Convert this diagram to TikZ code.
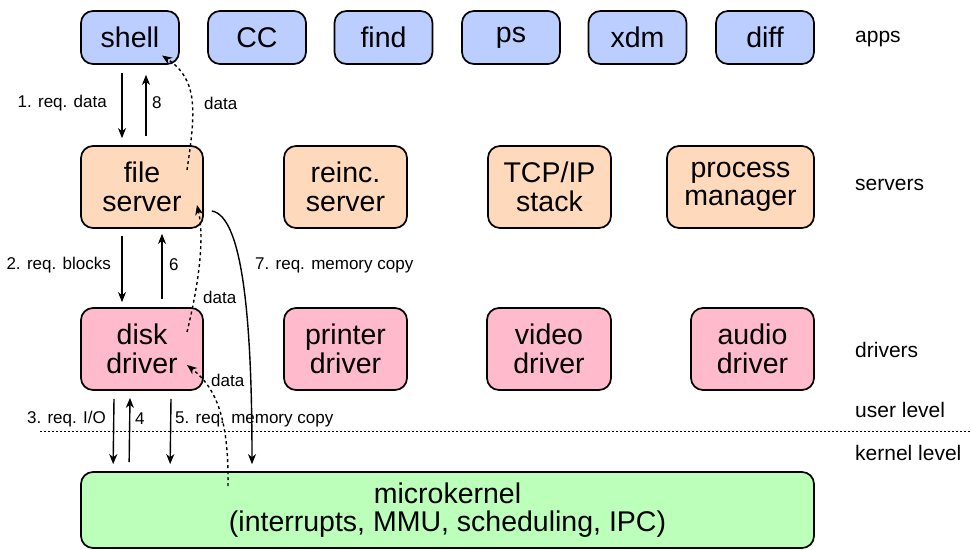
\documentclass[tikz,border=0pt]{standalone}
\usepackage{fontspec}
\setmainfont{Liberation Sans}
\usetikzlibrary{arrows.meta}
\definecolor{appc}{RGB}{187,206,255}
\definecolor{srvc}{RGB}{255,217,187}
\definecolor{drvc}{RGB}{255,186,204}
\definecolor{krnc}{RGB}{187,255,187}
\begin{document}
\begin{tikzpicture}[x=1pt,y=-1pt,
  box/.style={draw=black, line width=1.7pt, rounded corners=12pt, align=center, inner sep=0pt,
    font=\fontsize{28.5}{28.5}\selectfont},
  appbox/.style={box, fill=appc, minimum width=98pt, minimum height=53pt},
  srvbox/.style={box, fill=srvc, minimum height=82pt},
  drvbox/.style={box, fill=drvc, minimum height=82pt},
  side/.style={anchor=west, inner sep=0pt, font=\fontsize{21}{23}\selectfont},
  lbl/.style={inner sep=0pt, font=\fontsize{17}{19}\selectfont},
  arr/.style={line width=1.4pt, -{Stealth[length=10pt,width=8pt,inset=3pt]}},
  darr/.style={arr, dash pattern=on 3pt off 3pt},
]
\useasboundingbox (0,0) rectangle (972,549);
% apps
\node[appbox] (shell) at (130,37.5) {shell};
\node[appbox] (cc) at (257,37.5) {CC};
\node[appbox] (find) at (383.5,37.5) {find};
\node[appbox] (ps) at (511,37.5) {ps};
\node[appbox] (xdm) at (637.5,37.5) {xdm};
\node[appbox] (diff) at (765,37.5) {diff};
% servers
\node[srvbox, minimum width=122pt] (fs) at (142,187) {file\\server};
\node[srvbox, minimum width=123pt] (rs) at (345.5,187) {reinc.\\server};
\node[srvbox, minimum width=123pt] (tcp) at (549.5,187) {TCP/IP\\stack};
\node[srvbox, minimum width=147pt] (pm) at (740.5,187) {process\\manager};
% drivers
\node[drvbox, minimum width=122pt] (dd) at (142,349) {disk\\driver};
\node[drvbox, minimum width=123pt] (pd) at (345.5,349) {printer\\driver};
\node[drvbox, minimum width=124pt] (vd) at (549,349) {video\\driver};
\node[drvbox, minimum width=123pt] (ad) at (752.5,349) {audio\\driver};
% microkernel
\node[box, fill=krnc, minimum width=733pt, minimum height=76pt] (mk) at (447.5,510) {microkernel\\(interrupts, MMU, scheduling, IPC)};
% side labels
\node[side] (lapps) at (855,39) {apps};
\node[side] (lsrv) at (855,185) {servers};
\node[side] (ldrv) at (855,350) {drivers};
\node[side] (luser) at (855,410) {user level};
\node[side] (lkern) at (855,453) {kernel level};
% user/kernel boundary
\coordinate (bl) at (40,431);
\coordinate (br) at (972,431);
\draw[line width=0.8pt, dash pattern=on 2pt off 2pt] (bl) -- (br);
% shell <-> file server
\draw[arr] ([xshift=-8pt,yshift=-8pt]shell.south) -- ([xshift=-20pt,yshift=7pt]fs.north);
\draw[arr] ([xshift=4pt,yshift=9pt]fs.north) -- ([xshift=16pt,yshift=-10pt]shell.south);
\draw[darr] ([xshift=45pt,yshift=17pt]fs.center) .. controls +(9,-60) and +(36,24) .. ([xshift=32pt,yshift=-18pt]shell.center);
\node[lbl, anchor=east] (l1) at (107,103) {1. req. data};
\node[lbl, anchor=west] (l8) at (152,103) {8};
\node[lbl, anchor=west] (ld1) at (204,103) {data};
% file server <-> disk driver
\draw[arr] ([xshift=-20pt,yshift=-7pt]fs.south) -- ([xshift=-20pt,yshift=5pt]dd.north);
\draw[arr] ([xshift=20pt,yshift=8pt]dd.north) -- ([xshift=20pt,yshift=-5pt]fs.south);
\draw[darr] ([xshift=45pt,yshift=17pt]dd.center) .. controls +(11,-45) and +(8,35) .. ([xshift=55pt,yshift=-18pt]fs.center);
\node[lbl, anchor=east] (l2) at (111,265) {2. req. blocks};
\node[lbl, anchor=west] (l6) at (169,265) {6};
\node[lbl, anchor=west] (ld2) at (203,297) {data};
% file server -> microkernel
\draw[arr] ([xshift=8pt,yshift=-24pt]fs.east) .. controls +(30,5) and +(0,-150) .. ([xshift=-195.5pt,yshift=7pt]mk.north);
\node[lbl, anchor=west] (l7) at (255,265) {7. req. memory copy};
% disk driver <-> microkernel
\draw[arr] ([xshift=-28pt,yshift=-8pt]dd.south) -- ([xshift=33pt,yshift=7pt]mk.north west);
\draw[arr] ([xshift=49pt,yshift=9pt]mk.north west) -- ([xshift=-12pt,yshift=-7pt]dd.south);
\draw[arr] ([xshift=29pt,yshift=-8pt]dd.south) -- ([xshift=90pt,yshift=7pt]mk.north west);
\draw[darr] ([xshift=-219.5pt,yshift=-15pt]mk.north) .. controls +(1,-70) and +(28,22) .. ([xshift=45pt,yshift=-16pt]dd.center);
\node[lbl, anchor=east] (l3) at (106,419) {3. req. I/O};
\node[lbl, anchor=west] (l4) at (135,419) {4};
\node[lbl, anchor=west] (l5) at (175,419) {5. req. memory copy};
\node[lbl, anchor=west] (ld3) at (211,380) {data};
\end{tikzpicture}
\end{document}
